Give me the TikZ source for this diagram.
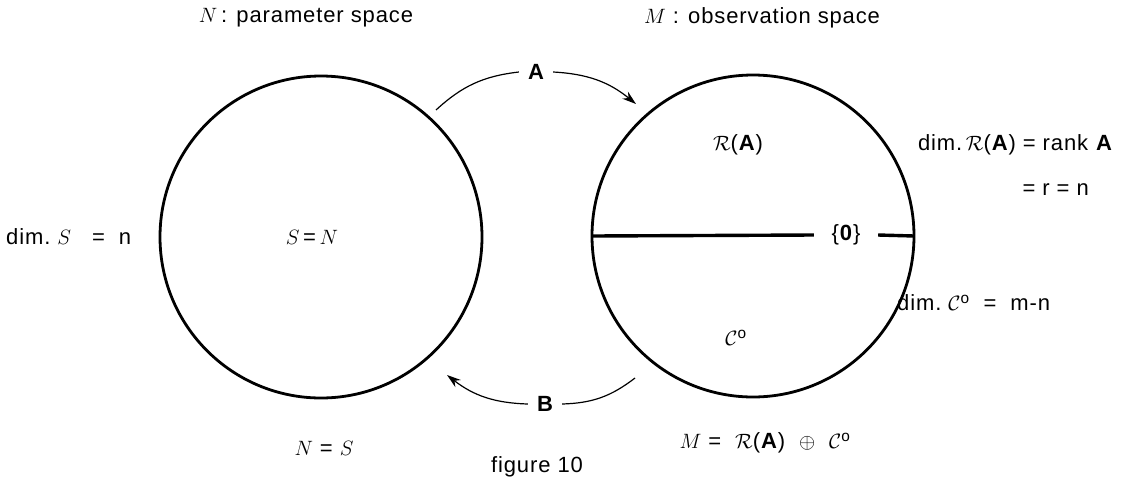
\documentclass[tikz,border=0pt]{standalone}
\usepackage{fontspec}
\setmainfont{Liberation Sans}[LetterSpace=4]
\usetikzlibrary{arrows.meta}
\tikzset{
  space/.style={circle,draw,line width=2.8pt,minimum size=322pt,inner sep=0pt,outer sep=0pt},
  lbl/.style={font=\fontsize{22}{26}\selectfont,inner sep=1pt},
  maplbl/.style={font=\fontsize{22}{26}\selectfont\bfseries,inner sep=9pt},
  maparrow/.style={line width=1.2pt},
}
\begin{document}
\begin{tikzpicture}[x=1pt,y=-1pt]
  \useasboundingbox (0,0) rectangle (1122,483);

  %% The two spaces
  \node[space] (N) at (321,237) {};
  \node[space] (M) at (753,236) {};

  %% Titles
  \node[lbl] (Ntitle) at (306,18) {$N$\,: parameter space};
  \node[lbl] (Mtitle) at (762,18) {$M$ : observation space};

  %% Parameter space
  \node[lbl] (SN) at (312,237) {$S$\,=\,$N$};
  \node[lbl,anchor=west] (dimS) at (5,237) {dim.\ $S$\ \ \ =\ \ n};
  \node[lbl] (NS) at (324,448) {$N$ = $S$};

  %% Observation space, split into range and complement
  \node[lbl,minimum width=64pt] (zero) at (846,235) {\{\textbf{0}\}};
  \draw[line width=3.4pt] (M.west) -- (zero.west);
  \draw[line width=3.4pt] (zero.east) -- (M.east);
  \node[lbl] (RA) at (738,145) {$\mathcal{R}$(\textbf{A})};
  \node[lbl] (Co) at (736,338) {$\mathcal{C}^{\mathrm{o}}$};
  \node[lbl,anchor=east] (dimR) at (1114,145) {dim.\,$\mathcal{R}$(\textbf{A})\ =\ rank \textbf{A}};
  \node[lbl,anchor=east] (rn) at (1090,190) {=\ r\ =\ n};
  \node[lbl,anchor=west] (dimC) at (896,303) {dim.\ $\mathcal{C}^{\mathrm{o}}$\ \ =\ \ m-n};
  \node[lbl] (Msum) at (765,443) {$M$ =\ \ $\mathcal{R}$(\textbf{A})\ \ $\oplus$\ \ $\mathcal{C}^{\mathrm{o}}$};

  %% Maps A and B
  \node[maplbl] (A) at (536,72) {A};
  \node[maplbl] (B) at (545,404) {B};
  \coordinate (a1) at (436,110);
  \coordinate (a2) at (636,104);
  \coordinate (b1) at (635,378);
  \coordinate (b2) at (447,375);
  \draw[maparrow] (a1) to[bend left=18] (A.west);
  \draw[maparrow,-{Stealth[length=14pt,width=9pt]}] (A.east) to[bend left=18] (a2);
  \draw[maparrow] (b1) to[bend left=18] (B.east);
  \draw[maparrow,-{Stealth[length=14pt,width=9pt]}] (B.west) to[bend left=18] (b2);

  \node[lbl] (fig) at (537,467) {figure 10};
\end{tikzpicture}
\end{document}
